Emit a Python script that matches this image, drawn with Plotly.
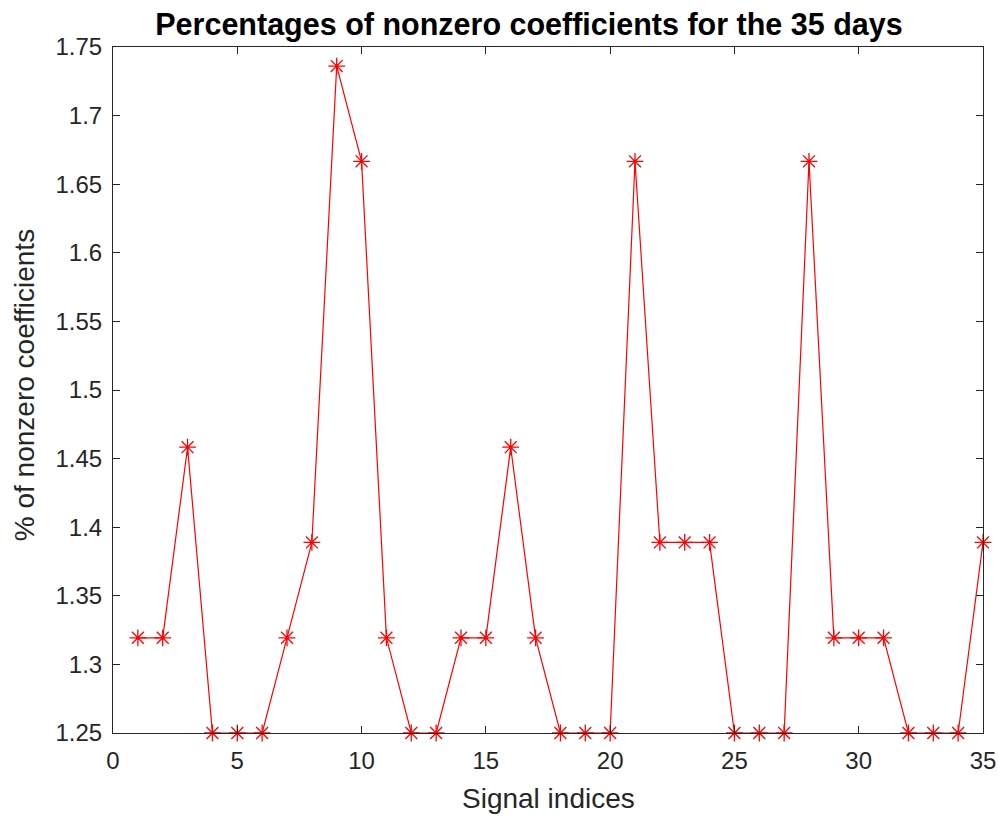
import plotly.graph_objects as go

signal_indices = list(range(1, 36))
pct_nonzero = [1.3194, 1.3194, 1.4583, 1.25, 1.25, 1.25, 1.3194, 1.3889, 1.7361, 1.6667,
               1.3194, 1.25, 1.25, 1.3194, 1.3194, 1.4583, 1.3194, 1.25, 1.25, 1.25,
               1.6667, 1.3889, 1.3889, 1.3889, 1.25, 1.25, 1.25, 1.6667, 1.3194, 1.3194,
               1.3194, 1.25, 1.25, 1.25, 1.3889]
x_ticks = [0, 5, 10, 15, 20, 25, 30, 35]
y_ticks = [1.25, 1.3, 1.35, 1.4, 1.45, 1.5, 1.55, 1.6, 1.65, 1.7, 1.75]

FONT = "Liberation Sans, Arial"
GREY = "#262626"

W, H = 999, 817
L, T, R, B = 113, 47, 16, 84
PW, PH = W - L - R, H - T - B

fig = go.Figure()
fig.add_trace(go.Scatter(
    x=signal_indices, y=pct_nonzero, mode="lines+markers",
    line=dict(color="red", width=1.2),
    marker=dict(symbol="asterisk-open", size=14, color="red", line=dict(color="red", width=1.3)),
    cliponaxis=False, showlegend=False,
))

axis_common = dict(
    showgrid=False, zeroline=False, showline=True, linecolor=GREY, linewidth=1,
    mirror="ticks", ticks="inside", ticklen=7, tickcolor=GREY, automargin=False,
    tickfont=dict(family=FONT, size=24, color=GREY),
)
fig.update_xaxes(range=[0, 35], tickvals=x_ticks, ticktext=[str(v) for v in x_ticks],
                 ticklabelstandoff=6, **axis_common)
fig.update_yaxes(range=[1.25, 1.75], tickvals=y_ticks, ticktext=[f"{v:g}" for v in y_ticks],
                 ticklabelstandoff=5, **axis_common)

fig.add_annotation(text="Signal indices", xref="paper", yref="paper",
                   x=0.5, y=-65 / PH, xanchor="center", yanchor="middle",
                   showarrow=False, font=dict(family=FONT, size=28, color=GREY))
fig.add_annotation(text="% of nonzero coefficients", xref="paper", yref="paper",
                   x=-89 / PW, y=0.507, xanchor="center", yanchor="middle",
                   textangle=-90, showarrow=False, font=dict(family=FONT, size=28, color=GREY))

fig.update_layout(
    width=W, height=H,
    margin=dict(l=L, r=R, t=T, b=B),
    paper_bgcolor="white", plot_bgcolor="white",
    title=dict(text="<b>Percentages of nonzero coefficients for the 35 days</b>",
               x=529 / W, xanchor="center", y=1 - 24 / H, yanchor="middle",
               font=dict(family=FONT, size=30.5, color="black")),
)
fig.write_html("out.html", config={"displayModeBar": False},
               post_script="document.body.style.margin='0';document.body.style.overflow='hidden';")
